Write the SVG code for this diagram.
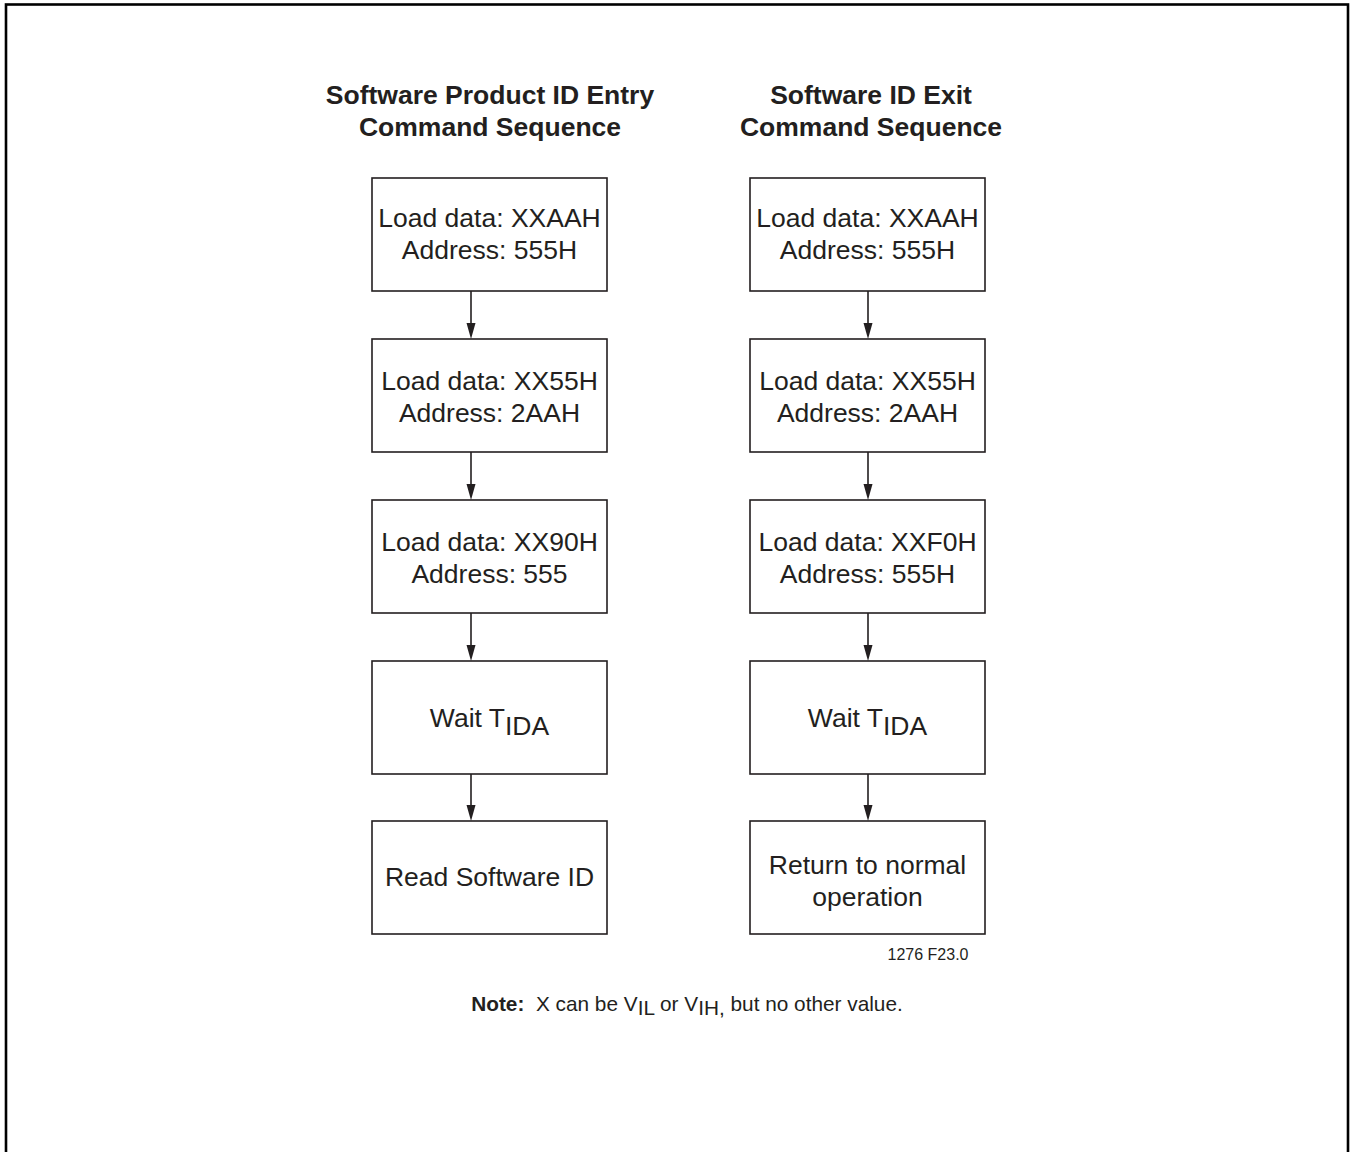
<svg xmlns="http://www.w3.org/2000/svg" width="1350" height="1152" viewBox="0 0 1350 1152">
<defs>
<style>
.t{font-family:"Liberation Sans",Arial,sans-serif;fill:#231f20;text-anchor:middle}
.b{font-size:26.5px}
.h{font-size:26.5px;font-weight:bold}
.box{fill:#fff;stroke:#231f20;stroke-width:1.6}
.c{stroke:#231f20;stroke-width:1.6;fill:none}
.ah{fill:#231f20}
</style>
</defs>
<rect x="0" y="0" width="1350" height="1152" fill="#fff"/>
<rect x="6" y="4.5" width="1342" height="1160" fill="none" stroke="#000" stroke-width="2.6"/>
<g id="titles">
<text class="t h" x="490" y="104">Software Product ID Entry</text>
<text class="t h" x="490" y="136">Command Sequence</text>
<text class="t h" x="871" y="104">Software ID Exit</text>
<text class="t h" x="871" y="136">Command Sequence</text>
</g>
<g id="connectors">
<line class="c" x1="471" y1="291" x2="471" y2="323"/>
<path class="ah" d="M466.5,323 L475.5,323 L471,339 Z"/>
<line class="c" x1="471" y1="452" x2="471" y2="484"/>
<path class="ah" d="M466.5,484 L475.5,484 L471,500 Z"/>
<line class="c" x1="471" y1="613" x2="471" y2="645"/>
<path class="ah" d="M466.5,645 L475.5,645 L471,661 Z"/>
<line class="c" x1="471" y1="774" x2="471" y2="805"/>
<path class="ah" d="M466.5,805 L475.5,805 L471,821 Z"/>
<line class="c" x1="868" y1="291" x2="868" y2="323"/>
<path class="ah" d="M863.5,323 L872.5,323 L868,339 Z"/>
<line class="c" x1="868" y1="452" x2="868" y2="484"/>
<path class="ah" d="M863.5,484 L872.5,484 L868,500 Z"/>
<line class="c" x1="868" y1="613" x2="868" y2="645"/>
<path class="ah" d="M863.5,645 L872.5,645 L868,661 Z"/>
<line class="c" x1="868" y1="774" x2="868" y2="805"/>
<path class="ah" d="M863.5,805 L872.5,805 L868,821 Z"/>
</g>
<g id="L1"><rect class="box" x="372" y="178" width="235" height="113"/>
<text class="t b" x="489.5" y="227">Load data: XXAAH</text>
<text class="t b" x="489.5" y="259">Address: 555H</text></g>
<g id="L2"><rect class="box" x="372" y="339" width="235" height="113"/>
<text class="t b" x="489.5" y="390">Load data: XX55H</text>
<text class="t b" x="489.5" y="422">Address: 2AAH</text></g>
<g id="L3"><rect class="box" x="372" y="500" width="235" height="113"/>
<text class="t b" x="489.5" y="551">Load data: XX90H</text>
<text class="t b" x="489.5" y="583">Address: 555</text></g>
<g id="L4"><rect class="box" x="372" y="661" width="235" height="113"/>
<text class="t b" x="489.5" y="727">Wait T<tspan dy="8">IDA</tspan></text></g>
<g id="L5"><rect class="box" x="372" y="821" width="235" height="113"/>
<text class="t b" x="489.5" y="886">Read Software ID</text></g>
<g id="R1"><rect class="box" x="750" y="178" width="235" height="113"/>
<text class="t b" x="867.5" y="227">Load data: XXAAH</text>
<text class="t b" x="867.5" y="259">Address: 555H</text></g>
<g id="R2"><rect class="box" x="750" y="339" width="235" height="113"/>
<text class="t b" x="867.5" y="390">Load data: XX55H</text>
<text class="t b" x="867.5" y="422">Address: 2AAH</text></g>
<g id="R3"><rect class="box" x="750" y="500" width="235" height="113"/>
<text class="t b" x="867.5" y="551">Load data: XXF0H</text>
<text class="t b" x="867.5" y="583">Address: 555H</text></g>
<g id="R4"><rect class="box" x="750" y="661" width="235" height="113"/>
<text class="t b" x="867.5" y="727">Wait T<tspan dy="8">IDA</tspan></text></g>
<g id="R5"><rect class="box" x="750" y="821" width="235" height="113"/>
<text class="t b" x="867.5" y="874">Return to normal</text>
<text class="t b" x="867.5" y="906">operation</text></g>
<text class="t" x="928" y="960" font-size="16">1276 F23.0</text>
<text class="t" x="687" y="1011" font-size="20.8" xml:space="preserve"><tspan font-weight="bold">Note:</tspan>  X can be V<tspan dy="4">IL</tspan><tspan dy="-4"> or V</tspan><tspan dy="4">IH,</tspan><tspan dy="-4"> but no other value.</tspan></text>
</svg>
